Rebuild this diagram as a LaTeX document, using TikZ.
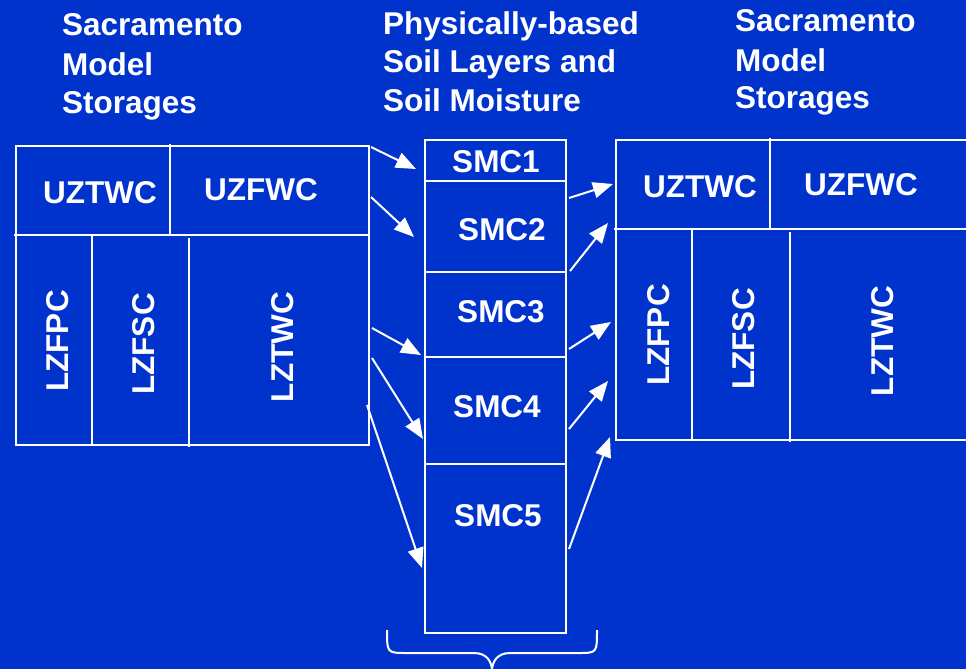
\documentclass[tikz,border=0pt]{standalone}
\usepackage{fontspec}
\setmainfont{Liberation Sans}
\usetikzlibrary{arrows.meta}
\definecolor{bgblue}{RGB}{0,51,204}
\tikzset{
  ln/.style={draw=white, line width=2pt},
  lbl/.style={text=white, font=\fontsize{31.5}{38}\selectfont\bfseries, inner sep=0pt},
  vlbl/.style={lbl, rotate=90},
  ttl/.style={lbl, anchor=base west},
  arr/.style={draw=white, line width=2pt, -{Triangle[length=20pt,width=16pt]}},
  brace/.style={draw=white, line width=2pt}
}
\begin{document}
\begin{tikzpicture}[x=1pt,y=-1pt]
\fill[bgblue] (0,0) rectangle (966,669);
\useasboundingbox (0,0) rectangle (966,669);

% titles
\node[ttl] (t1a) at (62,36) {Sacramento};
\node[ttl] (t1b) at (62,75) {Model};
\node[ttl] (t1c) at (62,113) {Storages};
\node[ttl] (t2a) at (383,35) {Physically-based};
\node[ttl] (t2b) at (383,73) {Soil Layers and};
\node[ttl] (t2c) at (383,111) {Soil Moisture};
\node[ttl] (t3a) at (735,32) {Sacramento};
\node[ttl] (t3b) at (735,71) {Model};
\node[ttl] (t3c) at (735,108) {Storages};

% left box
\draw[ln] (16,146) rectangle (369,445);
\draw[ln] (14,235) -- (369,235);
\draw[ln] (170,144) -- (170,235);
\draw[ln] (92,236) -- (92,445);
\draw[ln] (189,238) -- (189,447);
\node[lbl] (luztwc) at (100,193) {UZTWC};
\node[lbl] (luzfwc) at (261,190) {UZFWC};
\node[vlbl] (llzfpc) at (58,341) {LZFPC};
\node[vlbl] (llzfsc) at (144,344) {LZFSC};
\node[vlbl] (llztwc) at (283,347) {LZTWC};

% middle column
\draw[ln] (425,140) rectangle (566,633);
\draw[ln] (425,181) -- (566,181);
\draw[ln] (425,272) -- (566,272);
\draw[ln] (425,357) -- (566,357);
\draw[ln] (425,464) -- (566,464);
\node[lbl] (smc1) at (496,162) {SMC1};
\node[lbl] (smc2) at (502,230) {SMC2};
\node[lbl] (smc3) at (501,312) {SMC3};
\node[lbl] (smc4) at (497,407) {SMC4};
\node[lbl] (smc5) at (498,516) {SMC5};

% right box
\draw[ln] (968,140) -- (616,140) -- (616,440) -- (968,440);
\draw[ln] (614,229) -- (968,229);
\draw[ln] (770,138) -- (770,229);
\draw[ln] (692,230) -- (692,440);
\draw[ln] (790,232) -- (790,442);
\node[lbl] (ruztwc) at (700,187) {UZTWC};
\node[lbl] (ruzfwc) at (861,185) {UZFWC};
\node[vlbl] (rlzfpc) at (659,335) {LZFPC};
\node[vlbl] (rlzfsc) at (744,339) {LZFSC};
\node[vlbl] (rlztwc) at (883,341) {LZTWC};

% arrow end points
\coordinate (la1) at (371,147);  \coordinate (ma1) at (416,169);
\coordinate (la2) at (371,197);  \coordinate (ma2) at (414,237);
\coordinate (la3) at (372,328);  \coordinate (ma3) at (421,355);
\coordinate (la4) at (372,358);  \coordinate (ma4) at (423,439);
\coordinate (la5) at (367,405);  \coordinate (ma5) at (422,568);

\coordinate (mb1) at (569,198);  \coordinate (ra1) at (613,184);
\coordinate (mb2) at (570,271);  \coordinate (ra2) at (608,223);
\coordinate (mb3) at (569,349);  \coordinate (ra3) at (611,322);
\coordinate (mb4) at (569,429);  \coordinate (ra4) at (608,381);
\coordinate (mb5) at (569,549);  \coordinate (ra5) at (610,437);

\draw[arr] (la1) -- (ma1);
\draw[arr] (la2) -- (ma2);
\draw[arr] (la3) -- (ma3);
\draw[arr] (la4) -- (ma4);
\draw[arr] (la5) -- (ma5);
\draw[arr] (mb1) -- (ra1);
\draw[arr] (mb2) -- (ra2);
\draw[arr] (mb3) -- (ra3);
\draw[arr] (mb4) -- (ra4);
\draw[arr] (mb5) -- (ra5);

% brace
\coordinate (bl) at (387,630);
\coordinate (br) at (597,630);
\coordinate (bt) at (492,671);
\draw[brace] (bl) .. controls (387,653) .. (407,653) -- (474,653)
  .. controls (487,653) and (492,662) .. (bt)
  .. controls (492,662) and (497,653) .. (510,653) -- (578,653)
  .. controls (597,653) .. (br);
\end{tikzpicture}
\end{document}
